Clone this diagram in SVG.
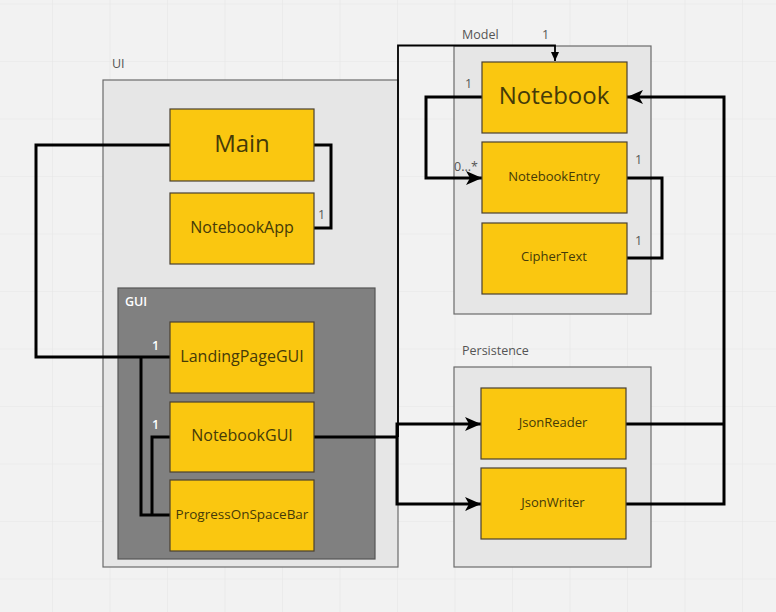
<svg xmlns="http://www.w3.org/2000/svg" width="776" height="612" viewBox="0 0 776 612">
<defs>
<pattern id="grid" x="-5.5" y="3.5" width="57.5" height="57.5" patternUnits="userSpaceOnUse">
<path d="M0 0H57.5M0 0V57.5" fill="none" stroke="#e6e6e6" stroke-width="1.2"/>
</pattern>
<marker id="arr" markerUnits="userSpaceOnUse" markerWidth="18" markerHeight="14" refX="16" refY="7" orient="auto">
<path d="M0 0L16 7L0 14L4 7Z" fill="#000"/>
</marker>
<marker id="arrs" markerUnits="userSpaceOnUse" markerWidth="10" markerHeight="8" refX="9" refY="4" orient="auto">
<path d="M0 0L9 4L0 8Z" fill="#000"/>
</marker>
<style>
.pkg{fill:#e6e6e6;stroke:#6b6b6b;stroke-width:1.2}
.gui{fill:#808080;stroke:#555;stroke-width:1.2}
.node rect{fill:#fac710;stroke:#4a4030;stroke-width:1.2}
.node text{font-family:"Open Sans","Noto Sans",sans-serif;fill:#453a08;text-anchor:middle;dominant-baseline:central}
.lbl{font-family:"Open Sans","Noto Sans",sans-serif;font-size:12.5px;fill:#555}
.wl{font-family:"Open Sans","Noto Sans",sans-serif;font-size:12.5px;fill:#fff;font-weight:600}
.c{fill:none;stroke:#000;stroke-width:3;stroke-linejoin:miter}
.t{fill:none;stroke:#000;stroke-width:1.8}
</style>
</defs>
<rect width="776" height="612" fill="#f2f2f2"/>
<rect width="776" height="612" fill="url(#grid)"/>

<g id="pkg-ui">
<rect class="pkg" x="103" y="80" width="295" height="487"/>
<text class="lbl" x="112" y="68">UI</text>
</g>
<g id="pkg-gui">
<rect class="gui" x="118" y="288" width="257" height="271"/>
<text class="wl" x="125" y="306">GUI</text>
</g>
<g id="pkg-model">
<rect class="pkg" x="454" y="46" width="197" height="268"/>
<text class="lbl" x="462" y="39">Model</text>
</g>
<g id="pkg-persistence">
<rect class="pkg" x="454" y="367" width="197" height="200"/>
<text class="lbl" x="462" y="355">Persistence</text>
</g>

<g id="connectors">
<path class="c" d="M170 145H36V357H170"/>
<path class="c" d="M314 145H331V228H314"/>
<path class="c" d="M141 357V515H170"/>
<path class="c" d="M170 437H152V515"/>
<path class="c" d="M314 437H397"/>
<path class="t" d="M398 437V45.5H555V61" marker-end="url(#arrs)"/>
<path class="c" d="M397 437V424H481" marker-end="url(#arr)"/>
<path class="c" d="M397 437V504H481" marker-end="url(#arr)"/>
<path class="c" d="M482 97H426V178H482" marker-end="url(#arr)"/>
<path class="c" d="M627 178H662V258H627"/>
<path class="c" d="M626 424H724M626 504H724V97H627" marker-end="url(#arr)"/>
<text class="lbl" x="318" y="219">1</text>
<text class="wl" x="152" y="350">1</text>
<text class="wl" x="152" y="429">1</text>
<text class="lbl" x="542" y="39">1</text>
<text class="lbl" x="465" y="88">1</text>
<text class="lbl" x="454" y="171">0...*</text>
<text class="lbl" x="635" y="164">1</text>
<text class="lbl" x="635" y="245">1</text>
</g>

<g id="node-main" class="node"><rect x="170" y="109" width="144" height="72"/><text x="242" y="142" font-size="24">Main</text></g>
<g id="node-notebookapp" class="node"><rect x="170" y="193" width="144" height="71"/><text x="242" y="227" font-size="16">NotebookApp</text></g>
<g id="node-landingpagegui" class="node"><rect x="170" y="322" width="144" height="71"/><text x="242" y="356" font-size="16">LandingPageGUI</text></g>
<g id="node-notebookgui" class="node"><rect x="170" y="402" width="144" height="70"/><text x="242" y="435" font-size="16">NotebookGUI</text></g>
<g id="node-progress" class="node"><rect x="170" y="480" width="144" height="71"/><text x="242" y="514" font-size="13.5">ProgressOnSpaceBar</text></g>
<g id="node-notebook" class="node"><rect x="482" y="62" width="145" height="71"/><text x="554" y="94" font-size="24">Notebook</text></g>
<g id="node-notebookentry" class="node"><rect x="482" y="142" width="145" height="71"/><text x="554" y="176" font-size="13">NotebookEntry</text></g>
<g id="node-ciphertext" class="node"><rect x="482" y="223" width="145" height="71"/><text x="554" y="256" font-size="13">CipherText</text></g>
<g id="node-jsonreader" class="node"><rect x="481" y="388" width="145" height="71"/><text x="553" y="422" font-size="13">JsonReader</text></g>
<g id="node-jsonwriter" class="node"><rect x="481" y="468" width="145" height="71"/><text x="553" y="502" font-size="13">JsonWriter</text></g>
</svg>
